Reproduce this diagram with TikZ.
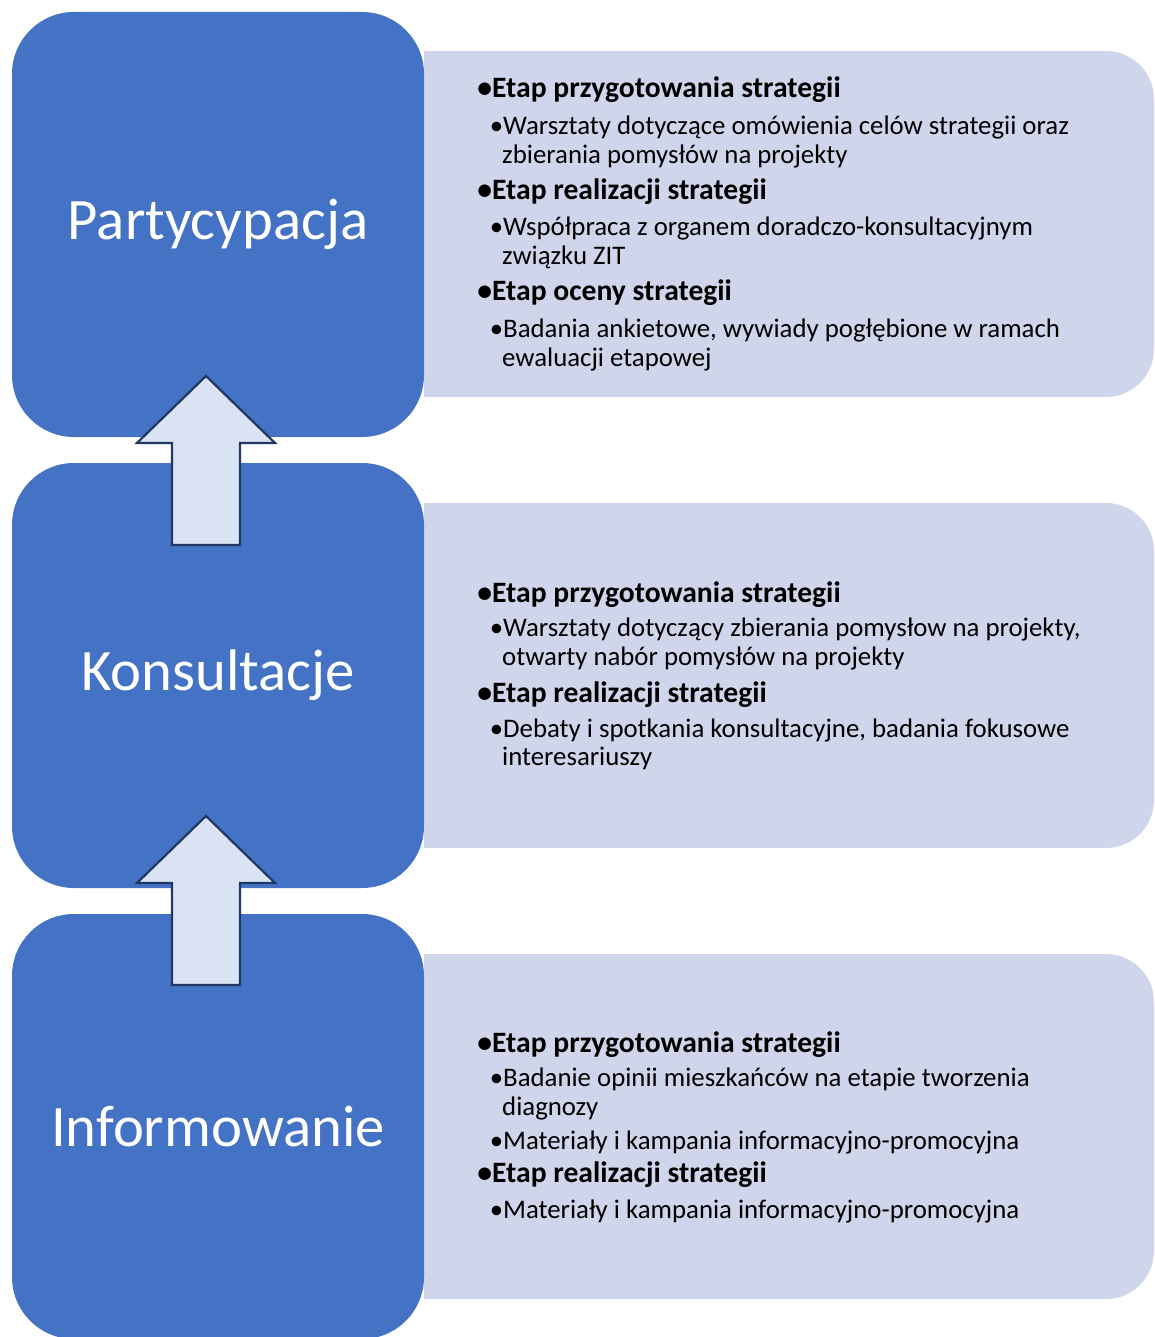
\documentclass[tikz,border=0pt]{standalone}
\usepackage{fontspec}
\setmainfont{Carlito}
\definecolor{stageblue}{HTML}{4472C4}
\definecolor{panelfill}{HTML}{CFD5EA}
\definecolor{arrowfill}{HTML}{DAE3F3}
\definecolor{arrowline}{HTML}{203864}

\begin{document}
\begin{tikzpicture}[x=1pt,y=-1pt]
	\tikzstyle{stage}=[fill=stageblue,text=white,rounded corners=62pt,minimum width=412pt,minimum height=425pt,inner sep=0pt,font=\fontsize{58.7}{70}\selectfont]
	\tikzstyle{panel}=[fill=panelfill]
	\tikzstyle{head}=[anchor=base west,inner sep=0pt,font=\fontsize{29.6}{35}\selectfont\bfseries]
	\tikzstyle{item}=[anchor=base west,inner sep=0pt,font=\fontsize{26.8}{29}\selectfont]
	\tikzstyle{uparrow}=[fill=arrowfill,draw=arrowline,line width=2.2pt,line join=miter]

	\useasboundingbox (0,0) rectangle (1154,1337);
	\clip (0,0) rectangle (1154,1337);

	% panels
	\fill[panel] (424,51) [rounded corners=48pt] -- (1154,51) -- (1154,397) [sharp corners] -- (424,397) -- cycle;
	\fill[panel] (424,503) [rounded corners=48pt] -- (1154,503) -- (1154,848) [sharp corners] -- (424,848) -- cycle;
	\fill[panel] (424,954) [rounded corners=48pt] -- (1154,954) -- (1154,1299) [sharp corners] -- (424,1299) -- cycle;

	% stages
	\node[stage](part) at (218,224.5){Partycypacja};
	\node[stage](kons) at (218,675.5){Konsultacje};
	\node[stage](info) at (218,1126.5){Informowanie};

	% arrows
	\coordinate (a1) at (206,545);
	\coordinate (a2) at (206,985);
	\draw[uparrow] (a1) ++(-34,0) -- ++(0,-102) -- ++(-35,0) -- ++(69,-67) -- ++(69,67) -- ++(-35,0) -- ++(0,102) -- cycle;
	\draw[uparrow] (a2) ++(-34,0) -- ++(0,-102) -- ++(-35,0) -- ++(69,-67) -- ++(69,67) -- ++(-35,0) -- ++(0,102) -- cycle;

	% Partycypacja
	\node[head](p1) at (492,98){\llap{•}Etap przygotowania strategii};
	\node[item](p1a) at (503,135){\llap{•}Warsztaty dotyczące omówienia celów strategii oraz};
	\node[item](p1b) at (502,164){zbierania pomysłów na projekty};
	\node[head](p2) at (492,200){\llap{•}Etap realizacji strategii};
	\node[item](p2a) at (503,236){\llap{•}Współpraca z organem doradczo-konsultacyjnym};
	\node[item](p2b) at (502,265){związku ZIT};
	\node[head](p3) at (492,301){\llap{•}Etap oceny strategii};
	\node[item](p3a) at (503,337){\llap{•}Badania ankietowe, wywiady pogłębione w ramach};
	\node[item](p3b) at (502,366){ewaluacji etapowej};

	% Konsultacje
	\node[head](k1) at (492,602){\llap{•}Etap przygotowania strategii};
	\node[item](k1a) at (503,636){\llap{•}Warsztaty dotyczący zbierania pomysłow na projekty,};
	\node[item](k1b) at (502,665){otwarty nabór pomysłów na projekty};
	\node[head](k2) at (492,702){\llap{•}Etap realizacji strategii};
	\node[item](k2a) at (503,737){\llap{•}Debaty i spotkania konsultacyjne, badania fokusowe};
	\node[item](k2b) at (502,765){interesariuszy};

	% Informowanie
	\node[head](i1) at (492,1052){\llap{•}Etap przygotowania strategii};
	\node[item](i1a) at (503,1086){\llap{•}Badanie opinii mieszkańców na etapie tworzenia};
	\node[item](i1b) at (502,1115){diagnozy};
	\node[item](i1c) at (503,1149){\llap{•}Materiały i kampania informacyjno-promocyjna};
	\node[head](i2) at (492,1182){\llap{•}Etap realizacji strategii};
	\node[item](i2a) at (503,1218){\llap{•}Materiały i kampania informacyjno-promocyjna};
\end{tikzpicture}
\end{document}
